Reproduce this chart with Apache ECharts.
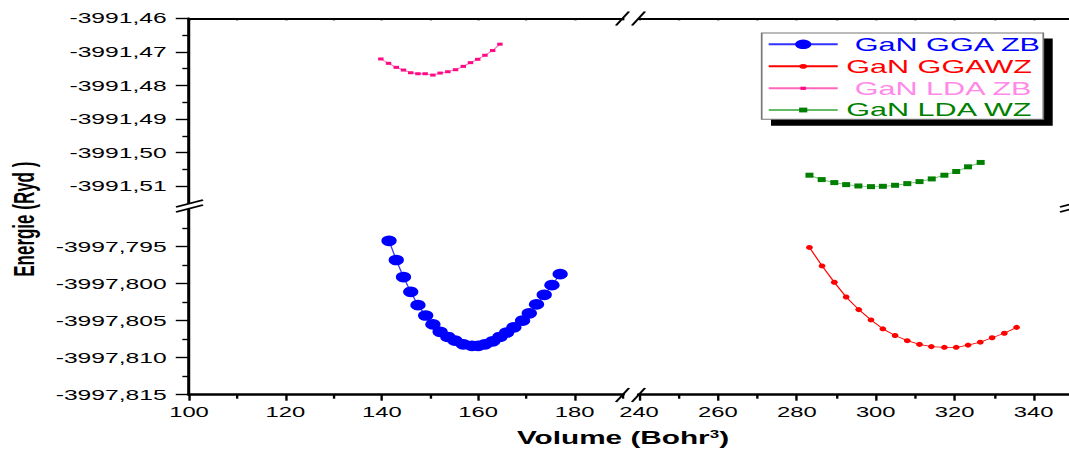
<!DOCTYPE html>
<html><head><meta charset="utf-8">
<script src="https://cdn.jsdelivr.net/npm/echarts@6.0.0/dist/echarts.min.js"></script>
<style>
html,body{margin:0;padding:0;width:1069px;height:456px;overflow:hidden;background:#fff;}
#chart{width:640px;height:456px;transform:scaleX(1.7);transform-origin:0 0;}
</style></head><body><div id="chart"></div>
<script>
// ---- data (Volume in Bohr^3, Energy in Ryd) ----
const volGgaZb = [141.5,143.0,144.5,146.0,147.5,149.1,150.6,152.1,153.7,155.2,156.9,158.7,160.0,161.4,163.0,164.5,165.9,167.4,169.2,170.6,172.1,173.7,175.3,177.0];
const eGgaZb = [-3997.7942,-3997.7968,-3997.7991,-3997.8011,-3997.8029,-3997.8043,-3997.8055,-3997.8065,-3997.8072,-3997.8077,-3997.8082,-3997.8084,-3997.8084,-3997.8082,-3997.8078,-3997.8072,-3997.8066,-3997.8059,-3997.8050,-3997.8040,-3997.8028,-3997.8015,-3997.8002,-3997.7987];
const volGgaWz = [283.2,286.4,289.5,292.5,295.7,298.8,301.8,304.9,308.0,311.1,314.1,317.4,320.4,323.4,326.5,329.5,332.6,335.7];
const eGgaWz = [-3997.7951,-3997.7976,-3997.7998,-3997.8018,-3997.8035,-3997.8049,-3997.8061,-3997.8070,-3997.8077,-3997.8082,-3997.8085,-3997.8086,-3997.8086,-3997.8083,-3997.8079,-3997.8073,-3997.8067,-3997.8059];
const volLdaZb = [139.8,141.4,143.0,144.5,146.0,147.5,149.0,150.6,152.1,153.7,155.3,156.9,158.4,159.9,161.4,163.0,164.5];
const eLdaZb = [-3991.4721,-3991.4734,-3991.4746,-3991.4754,-3991.4762,-3991.4765,-3991.4765,-3991.4769,-3991.4763,-3991.4759,-3991.4753,-3991.4743,-3991.4732,-3991.4722,-3991.4710,-3991.4696,-3991.4677];
const volLdaWz = [283.2,286.3,289.5,292.5,295.6,298.8,301.8,304.9,308.0,311.1,314.2,317.4,320.4,323.4,326.6];
const eLdaWz = [-3991.5067,-3991.5080,-3991.5089,-3991.5095,-3991.5099,-3991.5101,-3991.5100,-3991.5097,-3991.5092,-3991.5086,-3991.5078,-3991.5067,-3991.5056,-3991.5042,-3991.5029];

const seriesNames = ['GaN GGA ZB','GaN GGAWZ','GaN LDA ZB','GaN LDA WZ'];

// ---- axis ticks / labels ----
const xTopTicksL = [100,110,120,130,140,150,160,170,180,190];
const xTopTicksR = [240,250,260,270,280,290,300,310,320,330,340,350];
const xMajorL = [100,120,140,160,180];
const xMinorL = [110,130,150,170,190];
const xMajorR = [240,260,280,300,320,340];
const xMinorR = [250,270,290,310,330,350];
const yMajorTop = [-3991.51,-3991.50,-3991.49,-3991.48,-3991.47,-3991.46];
const yMinorTop = [-3991.505,-3991.495,-3991.485,-3991.475,-3991.465];
const yMajorBot = [-3997.815,-3997.810,-3997.805,-3997.800,-3997.795];
const yMinorBot = [-3997.8125,-3997.8075,-3997.8025,-3997.7975,-3997.7925];

const SX = 1.7;
const px = v => v / SX;
const FONT = '"Liberation Sans", Arial, Helvetica, sans-serif';

const gridL = { left: px(189), width: px(622.8 - 189) };
const gridR = { left: px(639), width: px(1073 - 639) };
const grids = [
  Object.assign({ top: 18.3, height: 184.8 }, gridL),
  Object.assign({ top: 18.3, height: 184.8 }, gridR),
  Object.assign({ top: 209.7, height: 185 }, gridL),
  Object.assign({ top: 209.7, height: 185 }, gridR)
].map(g => Object.assign({ outerBoundsMode: 'none', containLabel: false }, g));

function axis(o) {
  return {
    type: 'value', gridIndex: o.grid, position: o.pos, min: o.min, max: o.max, scale: true,
    axisLine: { show: !!o.line, onZero: false, lineStyle: { color: '#000', width: o.lw || 1.8 } },
    axisTick: { show: !!o.ticks, inside: !!o.inside, length: o.len || 4, customValues: o.ticks,
      lineStyle: { color: '#000', width: 1.4 } },
    axisLabel: { show: !!o.labels, customValues: o.labels, margin: o.margin || 10,
      fontSize: o.fs || 14, fontFamily: FONT, color: '#000', formatter: o.fmt },
    splitLine: { show: false }, minorTick: { show: false }
  };
}
const fmtTop = v => Number(v).toFixed(2).replace('.', ',');
const fmtBot = v => Number(v).toFixed(3).replace('.', ',');

const xAxes = [
  axis({ grid: 0, pos: 'top', min: 100, max: 190, line: true, lw: 2, ticks: xTopTicksL, inside: true, len: 2 }),
  axis({ grid: 1, pos: 'top', min: 240, max: 350, line: true, lw: 2, ticks: xTopTicksR, inside: true, len: 2 }),
  axis({ grid: 2, pos: 'bottom', min: 100, max: 190, line: true, lw: 2.6, ticks: xMajorL, len: 6, labels: xMajorL, margin: 10 }),
  axis({ grid: 2, pos: 'bottom', min: 100, max: 190, ticks: xMinorL, len: 4 }),
  axis({ grid: 3, pos: 'bottom', min: 240, max: 350, line: true, lw: 2.6, ticks: xMajorR, len: 6, labels: xMajorR, margin: 10 }),
  axis({ grid: 3, pos: 'bottom', min: 240, max: 350, ticks: xMinorR, len: 4 })
];
const yAxes = [
  axis({ grid: 0, pos: 'left', min: -3991.515, max: -3991.46, line: true, ticks: yMajorTop, len: 7.8, labels: yMajorTop, fmt: fmtTop, margin: 13.1, fs: 14.5 }),
  axis({ grid: 0, pos: 'left', min: -3991.515, max: -3991.46, ticks: yMinorTop, len: 3.9 }),
  axis({ grid: 1, pos: 'right', min: -3991.515, max: -3991.46, line: true }),
  axis({ grid: 2, pos: 'left', min: -3997.815, max: -3997.79, line: true, ticks: yMajorBot, len: 7.8, labels: yMajorBot, fmt: fmtBot, margin: 13.1, fs: 14.5 }),
  axis({ grid: 2, pos: 'left', min: -3997.815, max: -3997.79, ticks: yMinorBot, len: 3.9 }),
  axis({ grid: 3, pos: 'right', min: -3997.815, max: -3997.79, line: true })
];

const zip = (a, b) => a.map((v, i) => [v, b[i]]);
const series = [
  { name: seriesNames[0], type: 'line', xAxisIndex: 2, yAxisIndex: 3, data: zip(volGgaZb, eGgaZb),
    symbol: 'circle', symbolSize: [9, 10.7], lineStyle: { color: '#3333ff', width: 0.8 },
    itemStyle: { color: '#0000ff' }, z: 5 },
  { name: seriesNames[1], type: 'line', xAxisIndex: 4, yAxisIndex: 5, data: zip(volGgaWz, eGgaWz),
    symbol: 'circle', symbolSize: [4, 5], lineStyle: { color: '#ff0000', width: 0.8 },
    itemStyle: { color: '#ff0000' } },
  { name: seriesNames[2], type: 'line', xAxisIndex: 0, yAxisIndex: 0, data: zip(volLdaZb, eLdaZb),
    symbol: 'rect', symbolSize: [3.2, 3], lineStyle: { color: '#ff66bb', width: 0.8 },
    itemStyle: { color: '#ff0a85' } },
  { name: seriesNames[3], type: 'line', xAxisIndex: 1, yAxisIndex: 2, data: zip(volLdaWz, eLdaWz),
    symbol: 'rect', symbolSize: [4.7, 5], lineStyle: { color: '#66bb66', width: 0.8 },
    itemStyle: { color: '#007f00' } }
];

const legendText = ['#0000ff', '#ff0000', '#ff88e8', '#008000'];
const legendIconH = [12, 6, 4, 6];
const legendTop = [35.3, 57.3, 79.3, 101];
const legendLead = [' ', '', ' ', ''];
const legends = seriesNames.map((n, i) => ({
  data: [{ name: n, textStyle: { color: legendText[i] } }],
  left: px(767), top: legendTop[i], padding: 0, itemGap: 0,
  itemWidth: px(836 - 767), itemHeight: legendIconH[i],
  selectedMode: false, z: 10,
  formatter: name => legendLead[i] + name,
  textStyle: { fontSize: 18, lineHeight: 18, fontFamily: FONT }
}));

const lineEl = (x1, y1, x2, y2) => ({ type: 'line', z: 20,
  shape: { x1: px(x1), y1: y1, x2: px(x2), y2: y2 },
  style: { stroke: '#000', lineWidth: 1.5 } });

const graphic = [
  // legend frame with shadow
  { type: 'rect', z: 1, shape: { x: px(771), y: 38.5, width: px(1052.7 - 771), height: 87.3 }, style: { fill: '#000' } },
  { type: 'rect', z: 2, shape: { x: px(761.7), y: 33, width: px(1043.3 - 761.7), height: 86.3 }, style: { fill: '#fff', stroke: '#777', lineWidth: 1 } },
  // axis break marks
  lineEl(176, 207, 203, 200), lineEl(176, 212, 203, 205),
  lineEl(1060, 207, 1087, 200), lineEl(1060, 212, 1087, 205),
  lineEl(616, 402, 629, 388), lineEl(632, 402, 645, 388),
  lineEl(616, 25.5, 629, 11.5), lineEl(632, 25.5, 645, 11.5),
  // axis titles
  { type: 'text', z: 20, x: 14.5, y: 219.2, rotation: Math.PI / 2,
    style: { text: 'Energie (Ryd )', font: 'bold 17px ' + FONT, fill: '#000',
      align: 'center', verticalAlign: 'middle', textAlign: 'center', textVerticalAlign: 'middle' } },
  { type: 'text', z: 20, x: px(623), y: 438,
    style: { text: '{a|Volume (Bohr}{s|3}{a|)}', fill: '#000',
      align: 'center', verticalAlign: 'middle', textAlign: 'center', textVerticalAlign: 'middle',
      rich: { a: { font: 'bold 17.5px ' + FONT, fill: '#000', color: '#000' },
              s: { font: 'bold 10px ' + FONT, fill: '#000', color: '#000', verticalAlign: 'top' } } } }
];

const chart = echarts.init(document.getElementById('chart'), null, { renderer: 'svg' });
chart.setOption({
  animation: false,
  backgroundColor: '#fff',
  grid: grids,
  xAxis: xAxes,
  yAxis: yAxes,
  legend: legends,
  series: series,
  graphic: graphic
});
</script></body></html>
